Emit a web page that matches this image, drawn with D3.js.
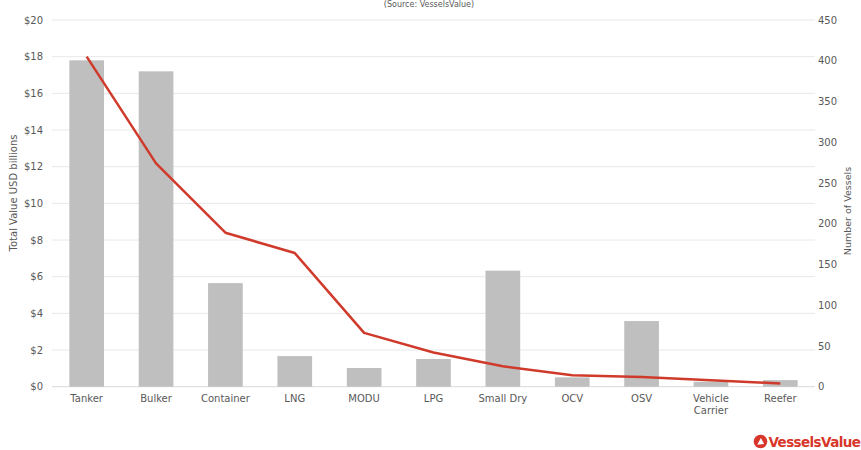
<!DOCTYPE html>
<html>
<head>
<meta charset="utf-8">
<script src="https://cdn.jsdelivr.net/npm/d3@7"></script>
<style>
  html, body { margin: 0; padding: 0; background: #fff; }
  svg { display: block; }
  text { font-family: "DejaVu Sans", Verdana, sans-serif; fill: #595959; }
</style>
</head>
<body>
<svg id="chart" width="861" height="450"></svg>
<script>
// Fleet by vessel type: total value (bars, left axis) and vessel count (line, right axis)
const categories = ["Tanker", "Bulker", "Container", "LNG", "MODU", "LPG", "Small Dry", "OCV", "OSV", "Vehicle Carrier", "Reefer"];
const totalValue = [17.8, 17.2, 5.65, 1.67, 1.02, 1.51, 6.33, 0.51, 3.58, 0.27, 0.36];
const vesselCount = [405, 274, 189, 164, 66, 42, 25, 14, 12, 8, 4];
const valueTicks = [0, 2, 4, 6, 8, 10, 12, 14, 16, 18, 20];
const countTicks = [0, 50, 100, 150, 200, 250, 300, 350, 400, 450];

const svg = d3.select("#chart");
const plotLeft = 52, plotRight = 815, plotTop = 20, plotBottom = 386.7;

const x = d3.scaleBand().domain(categories).range([plotLeft, plotRight])
  .paddingInner(0.5).paddingOuter(0.25);
const yVal = d3.scaleLinear().domain([0, 20]).range([plotBottom, plotTop]);
const yCnt = d3.scaleLinear().domain([0, 450]).range([plotBottom, plotTop]);

// gridlines follow the value axis
svg.append("g").selectAll("line").data(valueTicks).join("line")
  .attr("x1", plotLeft).attr("x2", plotRight)
  .attr("y1", d => yVal(d)).attr("y2", d => yVal(d))
  .attr("stroke", d => d === 0 ? "#d9d9d9" : "#e8e8e8")
  .attr("stroke-width", 1);

// left axis
const axL = svg.append("g").attr("transform", `translate(${plotLeft},0)`)
  .call(d3.axisLeft(yVal).tickValues(valueTicks).tickFormat(d => "$" + d).tickSize(0).tickPadding(9));
axL.select(".domain").remove();
axL.selectAll("text").attr("font-size", 10).attr("fill", "#595959")
  .attr("font-family", "DejaVu Sans, sans-serif");

// right axis
const axR = svg.append("g").attr("transform", `translate(${plotRight},0)`)
  .call(d3.axisRight(yCnt).tickValues(countTicks).tickSize(0).tickPadding(3));
axR.select(".domain").remove();
axR.selectAll("text").attr("font-size", 10).attr("fill", "#595959")
  .attr("font-family", "DejaVu Sans, sans-serif");

// bars
svg.append("g").selectAll("rect").data(categories).join("rect")
  .attr("x", d => x(d))
  .attr("width", x.bandwidth())
  .attr("y", (d, i) => yVal(totalValue[i]))
  .attr("height", (d, i) => yVal(0) - yVal(totalValue[i]))
  .attr("fill", "#bfbfbf");

// vessel count line
const line = d3.line()
  .x((d, i) => x(categories[i]) + x.bandwidth() / 2)
  .y(d => yCnt(d));
svg.append("path").datum(vesselCount)
  .attr("d", line)
  .attr("fill", "none")
  .attr("stroke", "#cf3a2b")
  .attr("stroke-width", 2.5)
  .attr("stroke-linejoin", "round");

// category labels; only labels too wide for the band wrap onto two lines
const xl = svg.append("g").selectAll("text").data(categories).join("text")
  .attr("text-anchor", "middle")
  .attr("font-size", 10)
  .attr("x", d => x(d) + x.bandwidth() / 2)
  .attr("y", 402);
xl.each(function(d) {
  const t = d3.select(this);
  t.text(d);
  if (this.getComputedTextLength() > x.step() * 0.85) {
    const words = d.split(" ");
    t.text(null);
    words.forEach((w, k) => t.append("tspan").attr("x", t.attr("x")).attr("dy", k === 0 ? 0 : 12).text(w));
  }
});

// axis titles
svg.append("text").attr("transform", "translate(17,193) rotate(-90)")
  .attr("text-anchor", "middle").attr("font-size", 10).text("Total Value USD billions");
svg.append("text").attr("transform", "translate(851,211) rotate(-90)")
  .attr("text-anchor", "middle").attr("font-size", 9.5).text("Number of Vessels");

// source line at the top
svg.append("text").attr("x", 429).attr("y", 7)
  .attr("text-anchor", "middle").attr("font-size", 8).attr("fill", "#8a8a8a")
  .text("(Source: VesselsValue)");

// VesselsValue logo
const logo = svg.append("g").attr("transform", "translate(760.5,441.5)");
logo.append("circle").attr("r", 6.8).attr("fill", "#d8362a");
logo.append("path").attr("d", "M-3.3,3.2 L0.4,-3.6 L3.6,2.4 Z").attr("fill", "#fff");
svg.append("text").attr("x", 768.5).attr("y", 446.5)
  .attr("font-family", "Open Sans, sans-serif").attr("font-weight", 600)
  .attr("font-size", 13.5).attr("letter-spacing", -0.6)
  .style("fill", "#d8362a")
  .text("VesselsValue");
</script>
</body>
</html>
